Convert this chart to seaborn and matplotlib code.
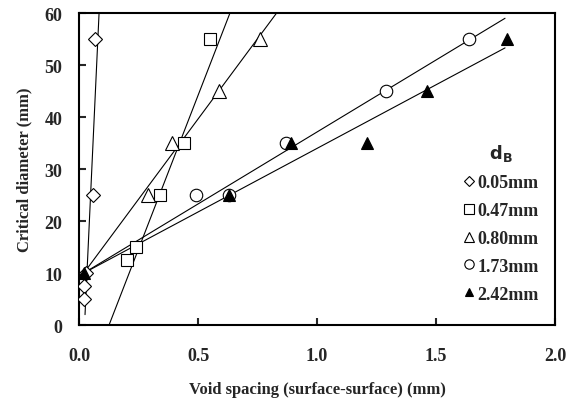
import pandas as pd
import seaborn as sns
import matplotlib.pyplot as plt
import numpy as np

# measured points (void spacing mm, critical diameter mm)
x_005 = [0.03, 0.02, 0.02, 0.06, 0.065]
y_005 = [10, 7.5, 5, 25, 55]
x_047 = [0.20, 0.24, 0.34, 0.44, 0.55]
y_047 = [12.5, 15, 25, 35, 55]
x_080 = [0.29, 0.39, 0.59, 0.76]
y_080 = [25, 35, 45, 55]
x_173 = [0.49, 0.63, 0.87, 1.29, 1.64]
y_173 = [25, 25, 35, 45, 55]
x_242 = [0.02, 0.63, 0.89, 1.21, 1.46, 1.80]
y_242 = [10, 25, 35, 35, 45, 55]

# fitted trend lines (end points)
fit_x_005 = [0.025, 0.084]
fit_y_005 = [2, 60]
fit_x_047 = [0.126, 0.634]
fit_y_047 = [0, 60]
fit_x_080 = [0.02, 0.83]
fit_y_080 = [10, 60]
fit_x_173 = [0.02, 1.79]
fit_y_173 = [10, 59]
fit_x_242 = [0.02, 1.79]
fit_y_242 = [10, 53.3]

labels = ['0.05mm', '0.47mm', '0.80mm', '1.73mm', '2.42mm']
markers = ['D', 's', '^', 'o', '^']
sizes = [7, 9, 10, 9, 8]
faces = ['white', 'white', 'white', 'white', 'black']

pts = [(x_005, y_005), (x_047, y_047), (x_080, y_080), (x_173, y_173), (x_242, y_242)]
fits = [(fit_x_005, fit_y_005), (fit_x_047, fit_y_047), (fit_x_080, fit_y_080),
        (fit_x_173, fit_y_173), (fit_x_242, fit_y_242)]

sns.set_style('white')
plt.rcParams['font.family'] = ['Liberation Serif', 'DejaVu Serif']
plt.rcParams['font.weight'] = 'bold'

fig = plt.figure(figsize=(5.73, 4.02), dpi=100)
ax = fig.add_axes([0.138, 0.189, 0.8306, 0.776])

for lab, (fx, fy) in zip(labels, fits):
    d = pd.DataFrame({'x': fx, 'y': fy})
    sns.lineplot(data=d, x='x', y='y', ax=ax, color='black', lw=0.8,
                 sort=False, estimator=None, legend=False)

for lab, (px, py), m, s, fc in zip(labels, pts, markers, sizes, faces):
    d = pd.DataFrame({'x': px, 'y': py})
    ax.plot(d['x'], d['y'], ls='none', marker=m, ms=s, mfc=fc,
            mec='black', mew=0.8, label=lab, zorder=3)

ax.set_xlim(0, 2.0)
ax.set_ylim(0, 60)
ax.set_xticks([0.0, 0.5, 1.0, 1.5, 2.0])
ax.set_xticklabels(['0.0', '0.5', '1.0', '1.5', '2.0'])
ax.set_yticks(range(0, 61, 10))
ax.tick_params(direction='in', length=5, width=1.5, labelsize=13,
               bottom=True, left=True)
ax.tick_params(axis='x', pad=16)
ax.tick_params(axis='y', pad=12)
for t in ax.get_xticklabels() + ax.get_yticklabels():
    t.set_fontweight('bold')
for sp in ax.spines.values():
    sp.set_linewidth(1.5)
    sp.set_color('black')

ax.set_xlabel('Void spacing (surface-surface) (mm)', fontsize=12,
              fontweight='bold', labelpad=12)
ax.set_ylabel('Critical diameter (mm)', fontsize=12, fontweight='bold',
              labelpad=9)

leg = ax.legend(title=r'$\mathbf{d_B}$', loc='lower right', frameon=False,
                fontsize=13, title_fontsize=13, handlelength=0.6,
                handletextpad=0.15, labelspacing=0.6, markerscale=0.75,
                bbox_to_anchor=(1.0, 0.02))
for t in leg.get_texts():
    t.set_fontweight('bold')

fig.savefig('out.png', dpi=100)
